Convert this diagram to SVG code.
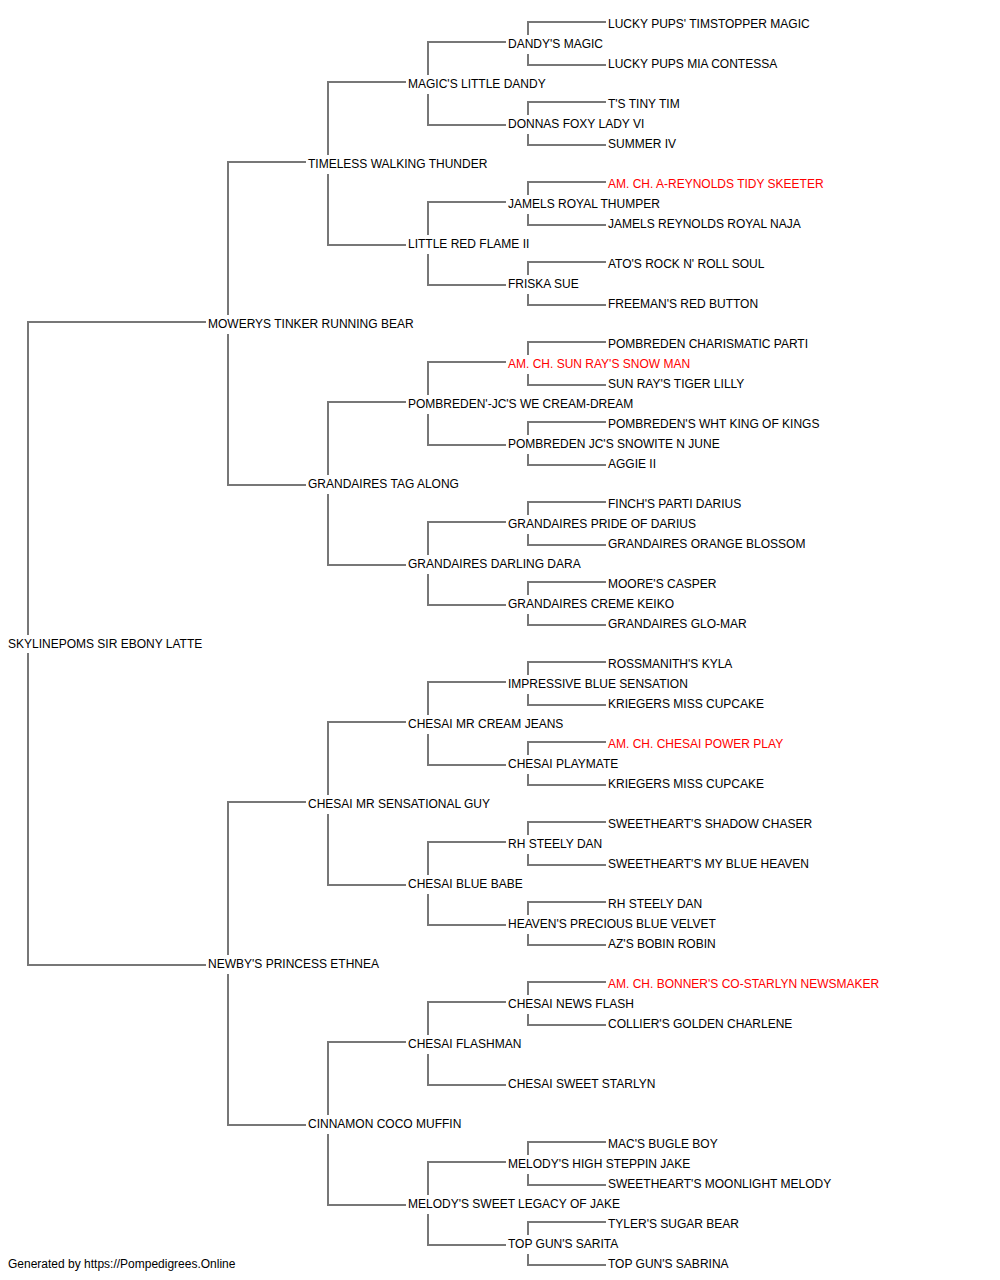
<svg xmlns="http://www.w3.org/2000/svg" width="1000" height="1280" viewBox="0 0 1000 1280">
<style>
text{font-family:"Liberation Sans",Arial,sans-serif;font-size:12px;fill:#000}
.red{fill:#ff0000}
#connectors path{fill:none;stroke:#777;stroke-width:2}
</style>
<rect width="1000" height="1280" fill="#fff"/>
<g id="connectors">
<!-- root -->
<path d="M28,635V322H206M28,653V965H206"/>
<!-- gen0 -->
<path d="M228,315V162H306M228,334V485H306"/>
<path d="M228,955V802H306M228,974V1125H306"/>
<!-- gen1 -->
<path d="M328,155V82H406M328,174V245H406"/>
<path d="M328,475V402H406M328,494V565H406"/>
<path d="M328,795V722H406M328,814V885H406"/>
<path d="M328,1115V1042H406M328,1134V1205H406"/>
<!-- gen2 -->
<path d="M428,75V42H506M428,94V125H506"/>
<path d="M428,235V202H506M428,254V285H506"/>
<path d="M428,395V362H506M428,414V445H506"/>
<path d="M428,555V522H506M428,574V605H506"/>
<path d="M428,715V682H506M428,734V765H506"/>
<path d="M428,875V842H506M428,894V925H506"/>
<path d="M428,1035V1002H506M428,1054V1085H506"/>
<path d="M428,1195V1162H506M428,1214V1245H506"/>
<!-- gen3 -->
<path d="M528,35V22H606M528,54V65H606"/>
<path d="M528,115V102H606M528,134V145H606"/>
<path d="M528,195V182H606M528,214V225H606"/>
<path d="M528,275V262H606M528,294V305H606"/>
<path d="M528,355V342H606M528,374V385H606"/>
<path d="M528,435V422H606M528,454V465H606"/>
<path d="M528,515V502H606M528,534V545H606"/>
<path d="M528,595V582H606M528,614V625H606"/>
<path d="M528,675V662H606M528,694V705H606"/>
<path d="M528,755V742H606M528,774V785H606"/>
<path d="M528,835V822H606M528,854V865H606"/>
<path d="M528,915V902H606M528,934V945H606"/>
<path d="M528,995V982H606M528,1014V1025H606"/>
<path d="M528,1155V1142H606M528,1174V1185H606"/>
<path d="M528,1235V1222H606M528,1254V1265H606"/>
</g>
<g id="root"><text x="8" y="648">SKYLINEPOMS SIR EBONY LATTE</text></g>
<g id="g0"><text x="208" y="328">MOWERYS TINKER RUNNING BEAR</text><text x="208" y="968">NEWBY'S PRINCESS ETHNEA</text></g>
<g id="g1">
<text x="308" y="168">TIMELESS WALKING THUNDER</text>
<text x="308" y="488">GRANDAIRES TAG ALONG</text>
<text x="308" y="808">CHESAI MR SENSATIONAL GUY</text>
<text x="308" y="1128">CINNAMON COCO MUFFIN</text>
</g>
<g id="g2">
<text x="408" y="88">MAGIC'S LITTLE DANDY</text>
<text x="408" y="248">LITTLE RED FLAME II</text>
<text x="408" y="408">POMBREDEN'-JC'S WE CREAM-DREAM</text>
<text x="408" y="568">GRANDAIRES DARLING DARA</text>
<text x="408" y="728">CHESAI MR CREAM JEANS</text>
<text x="408" y="888">CHESAI BLUE BABE</text>
<text x="408" y="1048">CHESAI FLASHMAN</text>
<text x="408" y="1208">MELODY'S SWEET LEGACY OF JAKE</text>
</g>
<g id="g3">
<text x="508" y="48">DANDY'S MAGIC</text>
<text x="508" y="128">DONNAS FOXY LADY VI</text>
<text x="508" y="208">JAMELS ROYAL THUMPER</text>
<text x="508" y="288">FRISKA SUE</text>
<text x="508" y="368" class="red">AM. CH. SUN RAY'S SNOW MAN</text>
<text x="508" y="448">POMBREDEN JC'S SNOWITE N JUNE</text>
<text x="508" y="528">GRANDAIRES PRIDE OF DARIUS</text>
<text x="508" y="608">GRANDAIRES CREME KEIKO</text>
<text x="508" y="688">IMPRESSIVE BLUE SENSATION</text>
<text x="508" y="768">CHESAI PLAYMATE</text>
<text x="508" y="848">RH STEELY DAN</text>
<text x="508" y="928">HEAVEN'S PRECIOUS BLUE VELVET</text>
<text x="508" y="1008">CHESAI NEWS FLASH</text>
<text x="508" y="1088">CHESAI SWEET STARLYN</text>
<text x="508" y="1168">MELODY'S HIGH STEPPIN JAKE</text>
<text x="508" y="1248">TOP GUN'S SARITA</text>
</g>
<g id="g4">
<text x="608" y="28">LUCKY PUPS' TIMSTOPPER MAGIC</text>
<text x="608" y="68">LUCKY PUPS MIA CONTESSA</text>
<text x="608" y="108">T'S TINY TIM</text>
<text x="608" y="148">SUMMER IV</text>
<text x="608" y="188" class="red">AM. CH. A-REYNOLDS TIDY SKEETER</text>
<text x="608" y="228">JAMELS REYNOLDS ROYAL NAJA</text>
<text x="608" y="268">ATO'S ROCK N' ROLL SOUL</text>
<text x="608" y="308">FREEMAN'S RED BUTTON</text>
<text x="608" y="348">POMBREDEN CHARISMATIC PARTI</text>
<text x="608" y="388">SUN RAY'S TIGER LILLY</text>
<text x="608" y="428">POMBREDEN'S WHT KING OF KINGS</text>
<text x="608" y="468">AGGIE II</text>
<text x="608" y="508">FINCH'S PARTI DARIUS</text>
<text x="608" y="548">GRANDAIRES ORANGE BLOSSOM</text>
<text x="608" y="588">MOORE'S CASPER</text>
<text x="608" y="628">GRANDAIRES GLO-MAR</text>
<text x="608" y="668">ROSSMANITH'S KYLA</text>
<text x="608" y="708">KRIEGERS MISS CUPCAKE</text>
<text x="608" y="748" class="red">AM. CH. CHESAI POWER PLAY</text>
<text x="608" y="788">KRIEGERS MISS CUPCAKE</text>
<text x="608" y="828">SWEETHEART'S SHADOW CHASER</text>
<text x="608" y="868">SWEETHEART'S MY BLUE HEAVEN</text>
<text x="608" y="908">RH STEELY DAN</text>
<text x="608" y="948">AZ'S BOBIN ROBIN</text>
<text x="608" y="988" class="red">AM. CH. BONNER'S CO-STARLYN NEWSMAKER</text>
<text x="608" y="1028">COLLIER'S GOLDEN CHARLENE</text>
<text x="608" y="1148">MAC'S BUGLE BOY</text>
<text x="608" y="1188">SWEETHEART'S MOONLIGHT MELODY</text>
<text x="608" y="1228">TYLER'S SUGAR BEAR</text>
<text x="608" y="1268">TOP GUN'S SABRINA</text>
</g>
<g id="footer"><text x="8" y="1268">Generated by https://Pompedigrees.Online</text></g>
</svg>
